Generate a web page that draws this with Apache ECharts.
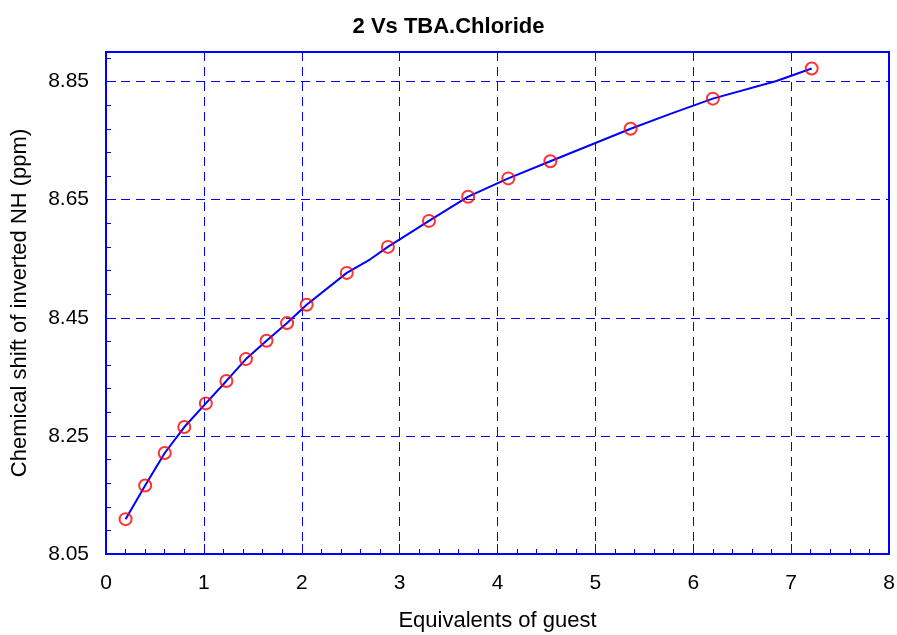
<!DOCTYPE html>
<html>
<head>
<meta charset="utf-8">
<script src="https://cdn.jsdelivr.net/npm/echarts@6/dist/echarts.min.js"></script>
<style>
html,body{margin:0;padding:0;background:#fff;}
#chart{width:897px;height:635px;}
</style>
</head>
<body>
<div id="chart"></div>
<script>
// Measured data (equivalents of guest vs chemical shift)
var dataX = [0.2, 0.4, 0.6, 0.8, 1.02, 1.23, 1.43, 1.64, 1.85, 2.05, 2.46, 2.88, 3.3, 3.7, 4.11, 4.54, 5.36, 6.2, 7.21];
var dataY = [8.109, 8.166, 8.221, 8.265, 8.305, 8.343, 8.380, 8.411, 8.441, 8.472, 8.526, 8.570, 8.614, 8.655, 8.686, 8.715, 8.770, 8.821, 8.872];
// Fitted curve
var fitX = [0.2, 0.4, 0.6, 0.8, 1.02, 1.23, 1.43, 1.64, 1.85, 2.05, 2.46, 2.7, 2.88, 3.3, 3.7, 4.11, 4.54, 5.36, 5.78, 6.2, 6.85, 7.21];
var fitY = [8.109, 8.166, 8.221, 8.265, 8.305, 8.343, 8.380, 8.411, 8.441, 8.472, 8.526, 8.549, 8.570, 8.614, 8.655, 8.686, 8.715, 8.770, 8.796, 8.821, 8.851, 8.872];
var titleText = '2 Vs TBA.Chloride';
var xName = 'Equivalents of guest';
var yName = 'Chemical shift of inverted NH (ppm)';

function pairs(xs, ys){ var out=[]; for (var i=0;i<xs.length;i++) out.push([xs[i], ys[i]]); return out; }

var chart = echarts.init(document.getElementById('chart'), null, {renderer:'canvas'});
var blue = '#0000ff';
var font = 'Liberation Sans, Arial, sans-serif';
var gridLine = {show:true, lineStyle:{color:blue, width:1, type:[9,6]}};
chart.setOption({
  animation:false,
  backgroundColor:'#ffffff',
  title:{text:titleText, left:'center', top:11, textStyle:{fontFamily:font, fontSize:22, fontWeight:'bold', color:'#000'}},
  grid:{left:106, right:8, top:52, bottom:81, show:true, borderColor:blue, borderWidth:2,
        containLabel:false, outerBoundsMode:'none'},
  xAxis:{
    type:'value', min:0, max:8, interval:1,
    name:xName, nameLocation:'middle', nameGap:56,
    nameTextStyle:{fontFamily:font, fontSize:22, color:'#000'},
    axisLine:{show:true, onZero:false, lineStyle:{color:blue, width:2}},
    axisTick:{show:true, inside:true, length:10, lineStyle:{color:blue, width:1}},
    minorTick:{show:true, splitNumber:5, length:5, lineStyle:{color:blue, width:1}},
    axisLabel:{fontFamily:font, fontSize:21, color:'#000', margin:19},
    splitLine:gridLine
  },
  yAxis:{
    type:'value', min:8.05, max:8.9, interval:0.2,
    name:yName, nameLocation:'middle', nameGap:75,
    nameTextStyle:{fontFamily:font, fontSize:22, color:'#000'},
    axisLine:{show:true, onZero:false, lineStyle:{color:blue, width:2}},
    axisTick:{show:true, inside:true, length:10, lineStyle:{color:blue, width:1}},
    minorTick:{show:true, splitNumber:5, length:5, lineStyle:{color:blue, width:1}},
    axisLabel:{fontFamily:font, fontSize:21, color:'#000', margin:17, showMaxLabel:false,
      formatter:function(v){ return v.toFixed(2); }},
    splitLine:gridLine
  },
  series:[
    {type:'line', data:pairs(fitX, fitY), showSymbol:false, symbol:'none', smooth:false,
     lineStyle:{color:blue, width:2}, z:2},
    {type:'scatter', data:pairs(dataX, dataY), symbol:'circle', symbolSize:12,
     itemStyle:{color:'rgba(0,0,0,0)', borderColor:'#ff0000', borderWidth:2}, z:3}
  ]
});
</script>
</body>
</html>
